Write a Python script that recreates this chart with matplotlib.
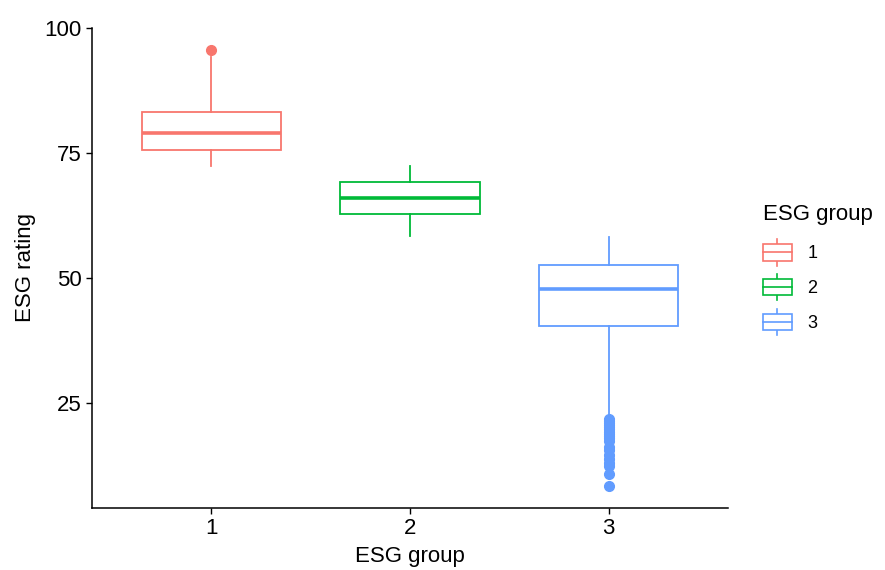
import matplotlib
matplotlib.use("Agg")
import matplotlib.pyplot as plt
from matplotlib.legend_handler import HandlerBase
from matplotlib.patches import Rectangle
from matplotlib.lines import Line2D

plt.rcParams['font.family'] = ['Liberation Sans', 'DejaVu Sans']

# ---- data ----
groups = ["1", "2", "3"]
q1 = [75.6, 62.9, 40.4]
medians = [79.1, 66.1, 47.9]
q3 = [83.3, 69.3, 52.7]
whisk_lo = [72.4, 58.4, 22.8]
whisk_hi = [94.2, 72.4, 58.2]
outliers_g1 = [95.6]
outliers_g2 = []
outliers_g3 = [21.9, 21.5, 21.0, 20.6, 20.2, 19.8, 19.3, 18.9, 18.4, 18.0,
               17.5, 16.2, 15.6, 14.6, 13.8, 13.0, 12.4, 10.8, 8.4]
outliers = [outliers_g1, outliers_g2, outliers_g3]
colors = ["#F8766D", "#00BA38", "#619CFF"]

fig = plt.figure(figsize=(8.85, 5.70), dpi=100)
ax = fig.add_axes([92 / 885, 1 - 508 / 570, (728 - 92) / 885, (508 - 28) / 570])

positions = [1, 2, 3]
for i, g in enumerate(groups):
    stats = [dict(med=medians[i], q1=q1[i], q3=q3[i], whislo=whisk_lo[i],
                  whishi=whisk_hi[i], fliers=outliers[i], label=g)]
    c = colors[i]
    ax.bxp(stats, positions=[positions[i]], widths=0.7, showcaps=False,
           patch_artist=True,
           boxprops=dict(facecolor="white", edgecolor=c, linewidth=1.3),
           whiskerprops=dict(color=c, linewidth=1.3),
           medianprops=dict(color=c, linewidth=2.6),
           flierprops=dict(marker="o", markerfacecolor=c, markeredgecolor=c,
                           markersize=7, linestyle="none"))

ax.set_xlim(0.4, 3.6)
ax.set_ylim(4.0, 100.0)
ax.set_yticks([25, 50, 75, 100])
ax.set_xticks(positions)
ax.set_xticklabels(groups)
for s in ["top", "right"]:
    ax.spines[s].set_visible(False)
for s in ["left", "bottom"]:
    ax.spines[s].set_linewidth(1.1)
ax.tick_params(axis="both", labelsize=16, length=4.5, width=1.0, pad=3,
               colors="black", labelcolor="black")
ax.set_xlabel("ESG group", fontsize=16, labelpad=5)
ax.set_ylabel("ESG rating", fontsize=16, labelpad=6)


class BoxHandler(HandlerBase):
    def __init__(self, color):
        super().__init__()
        self.color = color

    def create_artists(self, legend, orig_handle, xdescent, ydescent, width,
                       height, fontsize, trans):
        c = self.color
        cx = -xdescent + width / 2
        y0 = -ydescent
        bh = height * 0.62
        by = y0 + (height - bh) / 2
        rect = Rectangle((-xdescent, by), width, bh, facecolor="white",
                         edgecolor=c, linewidth=1.2, transform=trans)
        med = Line2D([-xdescent, -xdescent + width], [by + bh / 2] * 2,
                     color=c, linewidth=1.2, transform=trans)
        w1 = Line2D([cx, cx], [y0, by], color=c, linewidth=1.2, transform=trans)
        w2 = Line2D([cx, cx], [by + bh, y0 + height], color=c, linewidth=1.2,
                    transform=trans)
        return [w1, w2, rect, med]


handles = [Rectangle((0, 0), 1, 1) for _ in groups]
handler_map = {h: BoxHandler(c) for h, c in zip(handles, colors)}
leg = fig.legend(handles, groups, handler_map=handler_map,
                 loc="upper left", bbox_to_anchor=(763 / 885, 1 - 204 / 570),
                 frameon=False, fontsize=13, title="ESG group",
                 title_fontsize=16, handlelength=1.6, handleheight=1.9,
                 labelspacing=0.45, handletextpad=0.85, borderpad=0,
                 borderaxespad=0)
leg._legend_box.align = "left"
leg._legend_box.sep = 10

fig.savefig("out.png", dpi=100)
